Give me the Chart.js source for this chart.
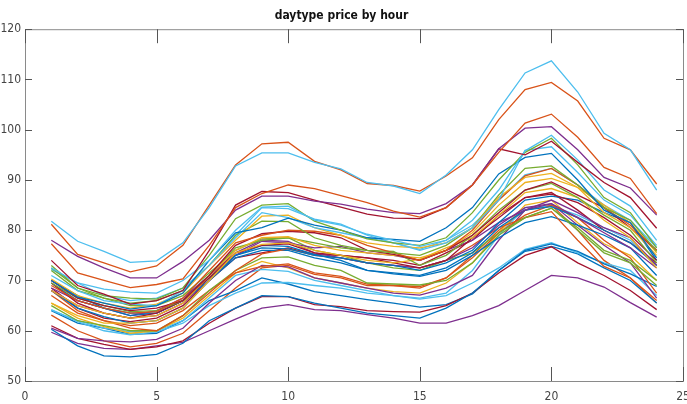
<!DOCTYPE html>
<html>
<head>
<meta charset="utf-8">
<script src="https://cdn.jsdelivr.net/npm/chart.js@4.4.1/dist/chart.umd.min.js"></script>
<style>
  html, body { margin: 0; padding: 0; background: #fff; }
  #wrap { width: 687px; height: 404px; }
</style>
</head>
<body>
<div id="wrap"><canvas id="chart" width="687" height="404"></canvas></div>
<script>
// hour of day, 1..24
const hours = [1,2,3,4,5,6,7,8,9,10,11,12,13,14,15,16,17,18,19,20,21,22,23,24];
const xTicks = [0, 5, 10, 15, 20, 25];
const yTicks = [50, 60, 70, 80, 90, 100, 110, 120];

// top lines
const lbTop  = [81.8,77.8,75.8,73.6,73.9,77.5,84.5,92.8,95.4,95.4,93.5,92.2,89.5,88.8,87.3,91,96,104,111.3,113.7,107.5,99.3,96,88];
const orTop  = [81.2,75.2,73.5,71.7,72.9,77,85,93,97.2,97.5,93.7,92,89.3,88.9,87.8,90.8,94.4,102,108,109.4,105.7,98.3,96,89.2];
const or2    = [77.3,71.5,70,68.6,69.2,70.3,77,84.5,87.3,89,88.3,86.9,85.5,83.8,82.6,84.5,89,95.5,101.3,103.1,98.5,92.5,90.3,83.3];
const pu1    = [78,74.8,72.5,70.5,70.5,73.8,78,84,86.8,86.8,85.8,85.2,84.2,83.5,83.3,85.3,89,96.2,100.3,100.6,96,90.5,88.4,83];
const dr1    = [74,69,67.3,65.3,66,68,76,85,87.7,87.5,86,84.6,83.2,82.4,82.3,84.5,89,96.2,95,97.7,93.5,89.5,86.5,80.4];

// middle band
const sA = [72.5,69.5,68.3,67.7,67.5,70,74,80,84.6,84.8,82,81,79.2,78,76.8,78,82,88,95.8,98.9,94,88,84.8,78];
const sB = [73,68.5,67,66.5,66.3,68.5,75,82.3,85,85.3,81.8,80,78.3,77.5,77,78.5,83.5,90,95.5,98.3,93,86.5,83.5,76.5];
const sC = [70,66.7,65.5,64.3,65,67.5,74,79.5,80.5,82.4,81,80,78.5,78.2,77.8,80.5,84.5,91.2,94.5,95.3,90,84,81.5,74.5];
const sD = [71,68,66,65.3,65,68,73,78.5,83.5,82.5,80.5,79.5,78.5,77.5,76,77.5,80.5,86,95.9,96.6,91.5,86,83,77];
const sE = [70.3,67,65.5,64.5,65.3,67.5,73,78,82.8,83,80.5,79,77.5,76.8,76.5,77.5,80.5,86.5,90.5,91.3,88.5,83.5,80.5,75];
const sF = [72,68,66.5,65.5,66,68,73,79,81.8,81.7,78.5,77,76,75.5,75,77,80.5,87,92.3,92.8,89,84.5,82,75.8];
const sG = [69,66,64.5,63.5,63.8,66.5,72,77.5,79,80,79.8,79,77,75.5,74,76,80,86,90.8,92.3,89,84.5,81,76];
const sH = [70,66.5,65,64,64.5,66,71,77,79.3,79.8,79.5,78.5,76,75.2,74,76,79,83.5,88,89.6,87,84.5,80.5,76];
const sI = [68,65,63.5,62.5,63,65.5,71,76,78.5,78.7,77,76,75.5,75,74.5,76,79.5,85,89.5,90.3,88.5,85,81.5,75.5];
const sJ = [69.5,66.5,65,63.8,64,66,71,76.5,78,78.5,77.5,76.5,76,75.8,73,75,79,84,88,89.3,86.5,83,80,73.5];
const sK = [65.5,63,61.5,61.5,62,64.5,70,75.5,77.2,77.5,76,75,74,73.5,74.2,76.5,78.5,83,87.5,88.3,86.5,82,78.5,72.5];
const sL = [69.5,65.5,63.5,62.5,63.5,66,70.5,75.5,77,77.3,75.5,75,74.5,73.5,72.5,74,78.5,82.5,86.5,87.2,85.5,82.5,79,74];
const sM = [70,67,64.5,63,63.5,66,70,75,76.5,76.3,75,74.5,73.5,73,72,73.5,76,81.5,86,86.8,86,83.5,81.5,74];
const sN = [68,65,63.5,62.5,63,65.5,70,75,77.8,77.5,76.5,76.8,75.5,75,74,76,78,81.5,84,86,83.5,80.5,78.5,73];
const sO = [68.5,66,64.5,63,64,66.5,71,75.5,78,77.8,75.5,74.5,73.5,73,72.5,74,76.5,81,84.5,85.3,82.5,79.5,76.5,72.5];
const sP = [69.5,66,64.5,63.5,63.5,66,70.5,75,77,76.8,75.2,74,72,71.5,71,72.5,75.5,80.5,84,84.7,82.5,80,77.5,73];
const sQ = [72.5,68.5,66.5,65,65,67,71.5,76,78.3,78.5,76,75,73.5,72.5,72,74,75.5,79.5,82.5,84.4,80,75.5,73.5,69];
const sR = [67,63.5,62,60.5,60,63,67.5,72,75.3,76.3,75,74.5,73.5,73,72.5,74,77,80.5,82.5,83.7,78,72.8,70.5,66];
const sS = [68,64.5,62.8,61.5,62,64.5,70,74.5,76,76,74.5,73.5,72,71.3,70.8,72,75,78.5,81.5,82.7,81,79,76.5,71];
const sT = [72.2,69.5,67,66,66.5,68.5,73,79,84.5,84.3,82.2,81.2,79,77.5,76.2,78,81,86,91,92.3,89,85,82,76.5];
const sU = [68.5,64.5,62.5,61.8,62.5,65,70,74.5,75.5,76.5,75.2,75,74.5,74,73,75.5,78,83,86.5,87.5,84,80,77.5,73.5];

// lower-middle band
const sV  = [65,62,61,60,60,63,68,72,74.5,74.7,73,72,69.5,69.3,69.1,70,73.5,79,82.5,84.4,80.5,76,74,70];
const sW  = [68,64,62,61,61.5,64,68,71.5,72.8,73.3,71.5,70.8,69.3,69,68.8,70.5,74.5,79.5,83,85,82.5,78,74.5,67.5];
const sX  = [60.5,58.5,58,57.8,58.3,60.5,65.5,70,73,72.7,70.5,69.5,68.5,67.5,67.1,68.5,71,78,84,85.3,81,77,73.5,66.5];
const sY  = [65.5,62.5,60.8,59.5,60,62.5,67,71.5,73.8,72.5,70.5,69.5,68.5,67.8,67.5,69.5,73.5,79.5,85,86,81.5,77.3,75,70];
const sAA = [64.1,62,60.5,59.8,60,62,66.5,71,72.2,71.8,70,69,68,67,66.5,67.5,72,79,84.5,84.8,83,80.5,78,73];

// bottom band
const blueLow = [60.3,57,55,54.8,55.3,57.5,62,64.5,67,66.8,65.5,64.5,63.5,63,62.5,64.5,67.5,72,76,77.3,75.8,73.3,71.3,68.8];
const redLow  = [61,58.5,57.3,56.3,56.8,58,61.5,64.5,66.8,66.8,65.2,64.8,64,63.8,63.7,65,67.5,71.5,75,76.7,73.5,71,68,64.2];
const lbLow   = [64.2,61.8,60,59.2,59.8,61.5,65,67.5,69.5,69.6,69,68.5,67.5,67,66.3,67,69.5,72.5,76.2,77.5,75.5,73.5,72,67];
const blue2   = [64,61.5,60.5,59.3,59.5,62,66,68,70.5,69.3,67.8,67,66.2,65.5,64.7,65.2,67.3,72,75.8,76.8,75.3,72.5,70,65.5];
const orLow   = [63.1,60,58,56.8,57.5,59.5,64,68.5,72.5,73,71.2,70.5,69,69,68.5,70.5,75,80,84,85,80,74,70.5,65.5];
const puLow   = [59.7,57.5,56.5,56.3,57,57.7,60,62.3,64.5,65.2,64.2,64,63.2,62.5,61.5,61.5,63,65,68,71,70.5,68.7,65.6,62.7];

// MATLAB default line colours
const C = {
  blue: "#0072BD", orange: "#D95319", yellow: "#EDB120", purple: "#7E2F8E",
  green: "#77AC30", lightblue: "#4DBEEE", darkred: "#A2142F"
};

const series = [
  [lbTop, C.lightblue], [orTop, C.orange], [or2, C.orange], [pu1, C.purple], [dr1, C.darkred],
  [sA, C.lightblue], [sB, C.green], [sC, C.blue], [sD, C.lightblue], [sE, C.yellow],
  [sF, C.green], [sG, C.orange], [sH, C.darkred], [sI, C.yellow], [sJ, C.green],
  [sK, C.yellow], [sL, C.darkred], [sM, C.blue], [sN, C.purple], [sO, C.purple],
  [sP, C.blue], [sQ, C.green], [sR, C.orange], [sS, C.blue], [sT, C.lightblue], [sU, C.darkred],
  [sV, C.green], [sW, C.orange], [sX, C.purple], [sY, C.yellow], [sAA, C.lightblue],
  [blueLow, C.blue], [redLow, C.darkred], [lbLow, C.lightblue], [blue2, C.blue], [orLow, C.orange], [puLow, C.purple]
];

const FONT = "'Liberation Sans Narrow', 'DejaVu Sans Condensed', 'Roboto Condensed', sans-serif";

// box around the axes plus inward ticks on all four sides (MATLAB style)
const matlabBox = {
  id: "matlabBox",
  afterDraw(chart) {
    const { ctx, chartArea: a, scales } = chart;
    ctx.save();
    ctx.strokeStyle = "#8a8a8a";
    ctx.lineWidth = 1;
    ctx.strokeRect(a.left + 0.5, a.top + 0.5, a.right - a.left, a.bottom - a.top);
    ctx.strokeStyle = "#555";
    ctx.beginPath();
    xTicks.forEach(v => {
      const px = Math.round(scales.x.getPixelForValue(v)) + 0.5;
      ctx.moveTo(px, a.bottom); ctx.lineTo(px, a.bottom - 14);
      ctx.moveTo(px, a.top); ctx.lineTo(px, a.top + 14);
    });
    yTicks.forEach(v => {
      const py = Math.round(scales.y.getPixelForValue(v)) + 0.5;
      ctx.moveTo(a.left, py); ctx.lineTo(a.left + 7, py);
      ctx.moveTo(a.right, py); ctx.lineTo(a.right - 7, py);
    });
    ctx.stroke();
    ctx.restore();
  }
};

new Chart(document.getElementById("chart"), {
  type: "line",
  data: {
    datasets: series.map(([vals, col], i) => ({
      label: "day " + (i + 1),
      data: hours.map((h, j) => ({ x: h, y: vals[j] })),
      borderColor: col,
      borderWidth: 1.3,
      pointRadius: 0,
      tension: 0,
      fill: false
    }))
  },
  options: {
    responsive: false,
    animation: false,
    devicePixelRatio: 1,
    layout: { padding: { left: 0, right: 4, top: 0, bottom: 0 } },
    plugins: {
      legend: { display: false },
      tooltip: { enabled: false },
      title: {
        display: true,
        text: "daytype price by hour",
        color: "#111",
        font: { family: FONT, size: 12, weight: "bold", lineHeight: 1.1 },
        padding: { top: 9, bottom: 7 }
      }
    },
    scales: {
      x: {
        type: "linear",
        min: 0, max: 25,
        afterBuildTicks: s => { s.ticks = xTicks.map(v => ({ value: v })); },
        afterFit: s => { s.height = 23; s.paddingLeft = 0; s.paddingRight = 0; },
        ticks: { color: "#444", font: { family: FONT, size: 12 }, padding: 9, maxRotation: 0 },
        grid: { display: false, drawTicks: false },
        border: { display: false }
      },
      y: {
        min: 50, max: 120,
        afterBuildTicks: s => { s.ticks = yTicks.map(v => ({ value: v })); },
        afterFit: s => { s.width = 25; },
        ticks: { color: "#444", font: { family: FONT, size: 12 }, padding: 4 },
        grid: { display: false, drawTicks: false },
        border: { display: false }
      }
    }
  },
  plugins: [matlabBox]
});
</script>
</body>
</html>
